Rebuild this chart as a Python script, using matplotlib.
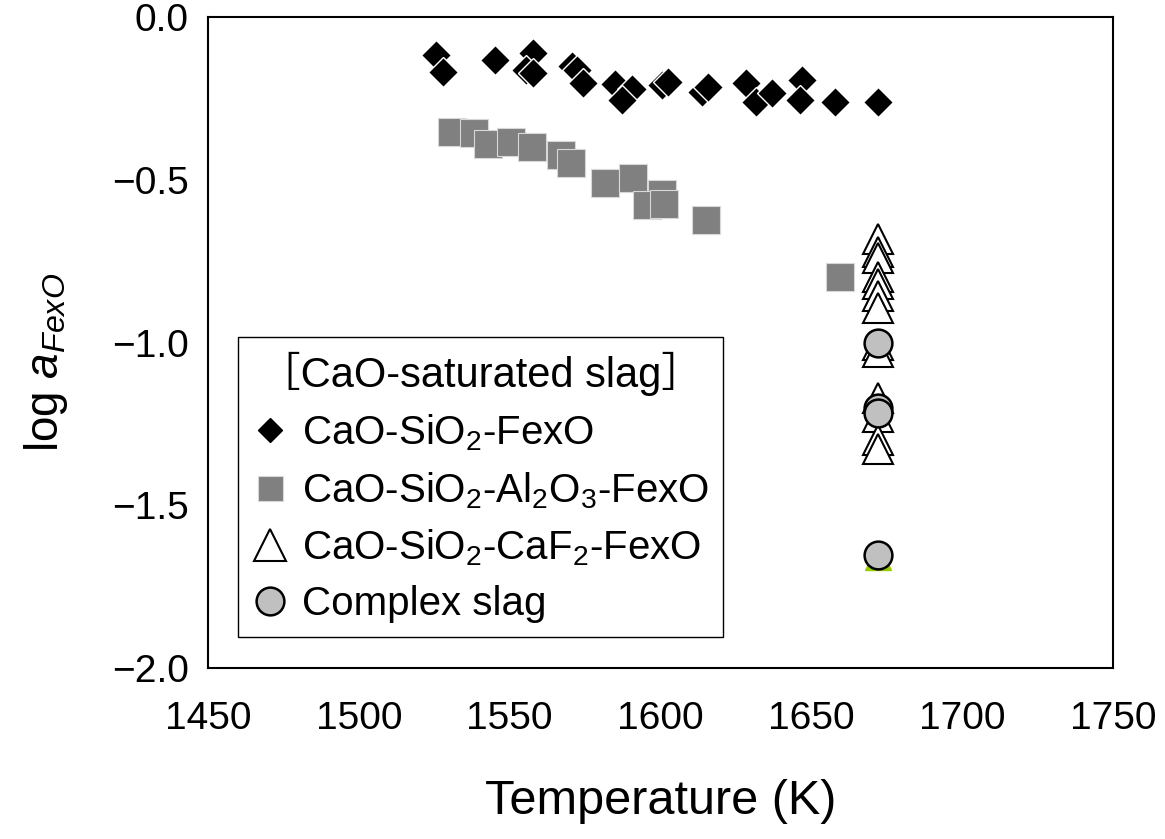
import matplotlib
matplotlib.use("Agg")
import matplotlib.pyplot as plt
from matplotlib.lines import Line2D

plt.rcParams['font.family'] = ['Liberation Sans', 'Noto Sans CJK JP', 'DejaVu Sans']
plt.rcParams['mathtext.fontset'] = 'custom'
plt.rcParams['mathtext.rm'] = 'Liberation Sans'
plt.rcParams['mathtext.it'] = 'Liberation Sans:italic'
plt.rcParams['mathtext.bf'] = 'Liberation Sans:bold'

# CaO-SiO2-FexO
t_sio2 = [1525.5, 1528.0, 1545.1, 1557.8, 1555.4, 1557.8, 1570.7, 1572.3, 1574.2,
          1584.9, 1590.4, 1587.1, 1600.4, 1602.6, 1613.6, 1615.9, 1628.3, 1631.8,
          1636.8, 1646.8, 1646.2, 1657.8, 1672.2]
a_sio2 = [-0.117, -0.169, -0.132, -0.111, -0.163, -0.172, -0.151, -0.163, -0.203,
          -0.206, -0.221, -0.255, -0.209, -0.199, -0.229, -0.214, -0.202, -0.260,
          -0.234, -0.194, -0.255, -0.260, -0.260]

# CaO-SiO2-Al2O3-FexO
t_al2o3 = [1530.8, 1538.2, 1542.9, 1550.3, 1557.5, 1567.0, 1570.3, 1581.6, 1591.0,
           1600.4, 1595.4, 1601.3, 1615.0, 1659.5]
a_al2o3 = [-0.352, -0.357, -0.391, -0.385, -0.400, -0.424, -0.448, -0.511, -0.496,
           -0.544, -0.578, -0.574, -0.624, -0.798]

# CaO-SiO2-CaF2-FexO
t_caf2 = [1672.0] * 13
a_caf2 = [-0.682, -0.722, -0.740, -0.799, -0.820, -0.857, -0.894, -1.008, -1.029,
          -1.170, -1.229, -1.300, -1.327]

# Complex slag
t_cplx = [1672.0, 1672.0, 1672.0, 1672.0]
a_cplx = [-1.002, -1.201, -1.217, -1.653]

# extra point lying under the lowest complex-slag circle
t_extra = [1672.0]
a_extra = [-1.66]

x_ticks = [1450, 1500, 1550, 1600, 1650, 1700, 1750]
y_ticks = [0.0, -0.5, -1.0, -1.5, -2.0]

fig = plt.figure(figsize=(11.65, 8.39), dpi=100)
ax = fig.add_axes([0.1785, 0.2038, 0.9554 - 0.1785, 0.9797 - 0.2038])

ax.plot(t_extra, a_extra, linestyle='none', marker='^', markersize=19,
        markerfacecolor='#99cc00', markeredgecolor='#99cc00', zorder=2)
ax.plot(t_sio2, a_sio2, linestyle='none', marker='D', markersize=15,
        markerfacecolor='black', markeredgecolor='white', markeredgewidth=1.0, zorder=3)
ax.plot(t_al2o3, a_al2o3, linestyle='none', marker='s', markersize=19.5,
        markerfacecolor='#808080', markeredgecolor='#d8d8d8', markeredgewidth=0.8, zorder=3)
ax.plot(t_caf2, a_caf2, linestyle='none', marker='^', markersize=21,
        markerfacecolor='white', markeredgecolor='black', markeredgewidth=1.5, zorder=3)
ax.plot(t_cplx, a_cplx, linestyle='none', marker='o', markersize=20,
        markerfacecolor='#c0c0c0', markeredgecolor='black', markeredgewidth=1.8, zorder=4)

ax.set_xlim(1450, 1750)
ax.set_ylim(-2.0, 0.0)
ax.set_xticks(x_ticks)
ax.set_xticklabels([str(v) for v in x_ticks])
ax.set_yticks(y_ticks)
ax.set_yticklabels([f"{v:.1f}".replace('-', '\u2212') for v in y_ticks])

for s in ax.spines.values():
    s.set_linewidth(1.5)
    s.set_color('black')

ax.tick_params(axis='both', length=0, labelsize=28)
ax.tick_params(axis='x', pad=24)
ax.tick_params(axis='y', pad=14)

ax.set_xlabel('Temperature (K)', fontsize=35, labelpad=30)
ax.set_ylabel(r'log $\mathit{a}_{\mathit{FexO}}$', fontsize=33)
ax.yaxis.set_label_coords(-0.152, 0.47)

handles = [
    Line2D([], [], linestyle='none', marker='D', markersize=12,
           markerfacecolor='black', markeredgecolor='black'),
    Line2D([], [], linestyle='none', marker='s', markersize=18,
           markerfacecolor='#808080', markeredgecolor='#d8d8d8', markeredgewidth=0.8),
    Line2D([], [], linestyle='none', marker='^', markersize=23,
           markerfacecolor='white', markeredgecolor='black', markeredgewidth=1.5),
    Line2D([], [], linestyle='none', marker='o', markersize=20,
           markerfacecolor='#c0c0c0', markeredgecolor='black', markeredgewidth=1.8),
]
labels = [
    r'CaO-SiO$_2$-FexO',
    r'CaO-SiO$_2$-Al$_2$O$_3$-FexO',
    r'CaO-SiO$_2$-CaF$_2$-FexO',
    'Complex slag',
]
leg = ax.legend(handles, labels, title='\uff3bCaO-saturated slag\uff3d',
                loc='upper left', bbox_to_anchor=(0.033, 0.508),
                fontsize=29, title_fontsize=30, frameon=True, fancybox=False,
                edgecolor='black', framealpha=1, borderpad=0.35,
                labelspacing=0.42, handlelength=0.9, handletextpad=0.35,
                borderaxespad=0)
leg.get_frame().set_linewidth(1.0)

fig.savefig('out.png', dpi=100)
